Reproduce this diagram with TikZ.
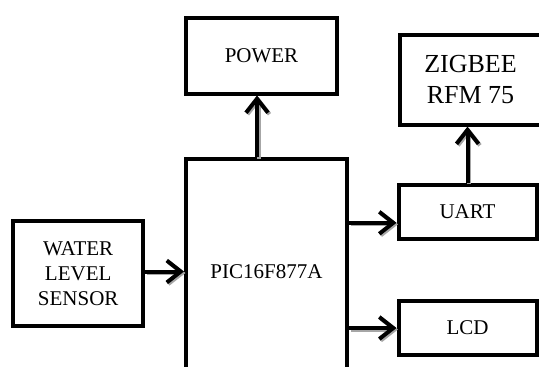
\documentclass[tikz,border=0pt]{standalone}
\usepackage{fontspec}
\setmainfont{Liberation Serif}
\usetikzlibrary{positioning, arrows.meta}

\begin{document}
\begin{tikzpicture}[x=1pt, y=-1pt, >={Straight Barb[length=14pt, width=22pt]},
    block/.style={draw, line width=4pt, align=center, inner sep=0pt,
      font=\fontsize{21}{25.2}\selectfont},
    arr/.style={->, line width=4pt,
      preaction={->, draw=black!35, line width=4pt,
        transform canvas={xshift=1.5pt, yshift=-1.5pt}}}]
  \useasboundingbox (0,0) rectangle (539,367);
  \node[block, minimum width=151pt, minimum height=75.8pt] (power) at (261.5,55.6) {POWER};
  \node[block, minimum width=142pt, minimum height=89.6pt,
    font=\fontsize{26}{31.2}\selectfont] (zigbee) at (470.5,79.8) {ZIGBEE\\RFM 75};
  \node[block, minimum width=161pt, minimum height=225pt] (pic) at (266.5,271.5) {PIC16F877A};
  \node[block, minimum width=138pt, minimum height=54.2pt] (uart) at (467.5,212) {UART};
  \node[block, minimum width=138pt, minimum height=54.2pt] (lcd) at (467.5,328) {LCD};
  \node[block, minimum width=130.5pt, minimum height=105.6pt] (sensor) at (78.2,273.6)
    {WATER\\LEVEL\\SENSOR};

  \path ([yshift=-10.8pt]uart.west) coordinate (uartin);
  \path ([xshift=-4.5pt]power.south) coordinate (powerin);
  \draw[arr] (sensor.east |- pic.west) -- (pic.west);
  \draw[arr] (pic.east |- uartin) -- (uartin);
  \draw[arr] (pic.east |- lcd.west) -- (lcd.west);
  \draw[arr] (pic.north -| powerin) -- (powerin);
  \draw[arr] (uart.north) -- (uart.north |- zigbee.south);
\end{tikzpicture}
\end{document}
